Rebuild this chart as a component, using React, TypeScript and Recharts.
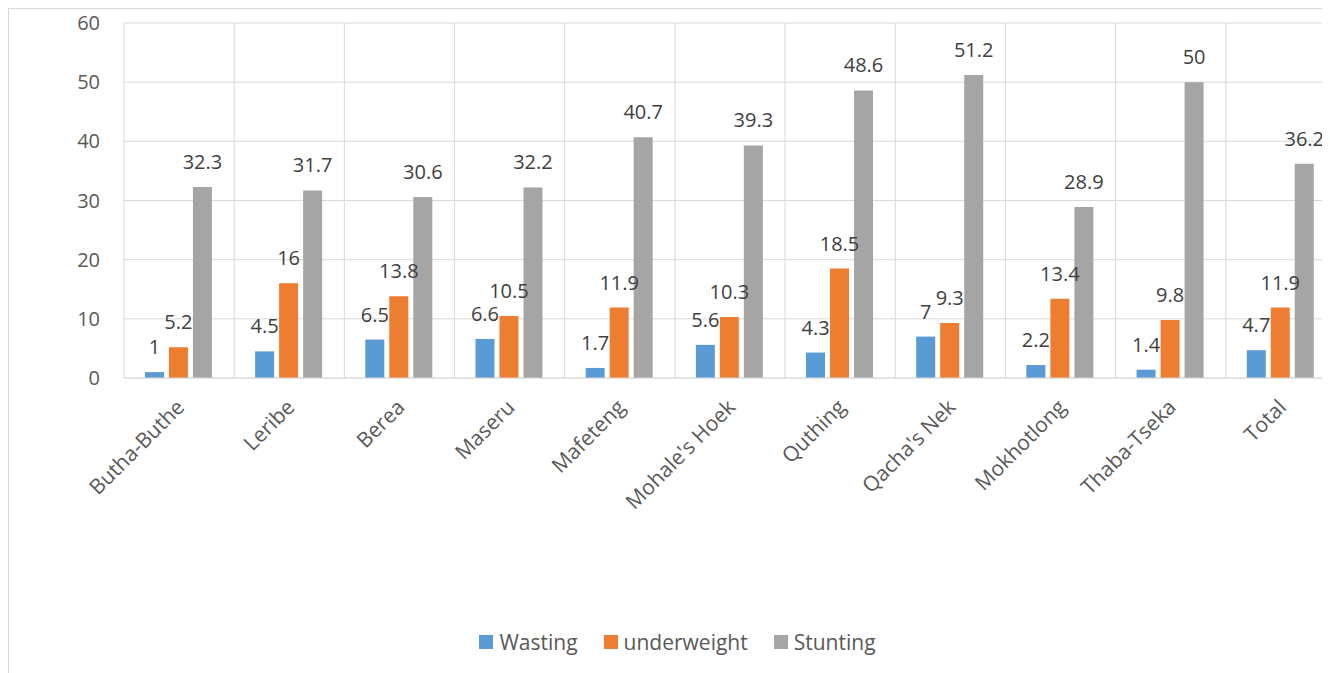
import { Bar, BarChart, CartesianGrid, LabelList, Legend, XAxis, YAxis } from 'recharts';

const districts = [
  'Butha-Buthe',
  'Leribe',
  'Berea',
  'Maseru',
  'Mafeteng',
  "Mohale's Hoek",
  'Quthing',
  "Qacha's Nek",
  'Mokhotlong',
  'Thaba-Tseka',
  'Total',
];
const wasting = [1, 4.5, 6.5, 6.6, 1.7, 5.6, 4.3, 7, 2.2, 1.4, 4.7];
const underweight = [5.2, 16, 13.8, 10.5, 11.9, 10.3, 18.5, 9.3, 13.4, 9.8, 11.9];
const stunting = [32.3, 31.7, 30.6, 32.2, 40.7, 39.3, 48.6, 51.2, 28.9, 50, 36.2];
const yTicks = [0, 10, 20, 30, 40, 50, 60];

const series = [
  { key: 'wasting', name: 'Wasting', color: '#5B9BD5' },
  { key: 'underweight', name: 'underweight', color: '#ED7D31' },
  { key: 'stunting', name: 'Stunting', color: '#A5A5A5' },
];

const data = districts.map((name, i) => ({
  name,
  wasting: wasting[i],
  underweight: underweight[i],
  stunting: stunting[i],
}));

const FONT = '"Open Sans", sans-serif';

function LegendContent() {
  return (
    <div
      style={{
        height: 62,
        paddingLeft: 10,
        display: 'flex',
        alignItems: 'center',
        justifyContent: 'center',
        fontFamily: FONT,
        fontSize: 21,
        color: '#595959',
      }}
    >
      {series.map((s) => (
        <div key={s.key} style={{ display: 'flex', alignItems: 'center', margin: '0 13px' }}>
          <span style={{ width: 14, height: 14, background: s.color, marginRight: 6 }} />
          <span>{s.name}</span>
        </div>
      ))}
    </div>
  );
}

export default function App() {
  return (
    <div
      style={{
        width: 1321,
        height: 665,
        overflow: 'hidden',
        borderLeft: '1px solid #d9d9d9',
        borderTop: '1px solid #d9d9d9',
      }}
    >
      <style>{'html,body{overflow:hidden}'}</style>
      <BarChart
        width={1340}
        height={664}
        data={data}
        margin={{ top: 14, right: 13, bottom: 0, left: 0 }}
        barCategoryGap="19%"
        barGap={5}
      >
        <CartesianGrid
          stroke="#d9d9d9"
          verticalCoordinatesGenerator={({ offset }: any) =>
            districts
              .map((_, i) => offset.left + (offset.width * i) / districts.length)
              .concat(offset.left + offset.width)
          }
        />
        <XAxis
          dataKey="name"
          interval={0}
          height={233}
          axisLine={{ stroke: '#d9d9d9' }}
          tickLine={false}
          tickSize={0}
          tickMargin={20}
          angle={-45}
          textAnchor="end"
          dx={-4}
          tick={{ fill: '#595959', fontSize: 21, fontFamily: FONT }}
        />
        <YAxis
          width={115}
          domain={[0, 60]}
          ticks={yTicks}
          axisLine={false}
          tickLine={false}
          tickSize={0}
          tickMargin={24}
          tick={{ fill: '#595959', fontSize: 20, fontFamily: FONT }}
        />
        <Legend verticalAlign="bottom" content={() => <LegendContent />} />
        {series.map((s) => (
          <Bar key={s.key} dataKey={s.key} name={s.name} fill={s.color} isAnimationActive={false}>
            <LabelList
              dataKey={s.key}
              position="top"
              offset={18}
              fill="#404040"
              fontSize={20}
              fontFamily={FONT}
            />
          </Bar>
        ))}
      </BarChart>
    </div>
  );
}
